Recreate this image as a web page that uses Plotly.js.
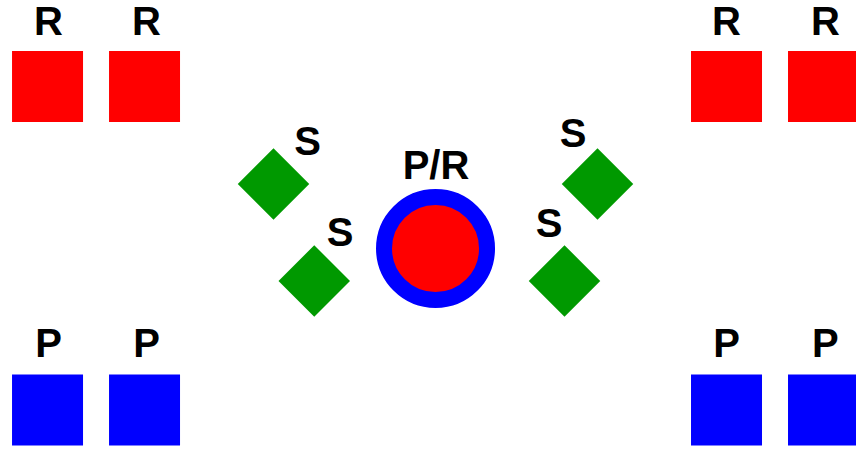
<!DOCTYPE html>
<html>
<head>
<meta charset="utf-8">
<script src="https://cdn.plot.ly/plotly-3.0.1.min.js"></script>
<style>html,body{margin:0;padding:0;background:#fff;}#chart{width:856px;height:449px;}</style>
</head>
<body>
<div id="chart"></div>
<script>
// Node positions (diagram units; centre node at origin)
const sideX = [-4, -3, 3, 4];
const redY = [1.67, 1.67, 1.67, 1.67];
const blueY = [-1.665, -1.665, -1.665, -1.665];
const greenX = [-1.67, -1.25, 1.67, 1.33];
const greenY = [0.665, -0.335, 0.665, -0.335];
const centerX = [0];
const centerY = [0];

// Labels
const rLabels = ['R', 'R', 'R', 'R'];
const rLabelX = [-3.99, -2.98, 3.0, 4.02];
const rLabelY = [2.3, 2.3, 2.3, 2.3];
const pLabels = ['P', 'P', 'P', 'P'];
const pLabelX = [-3.99, -2.98, 3.0, 4.02];
const pLabelY = [-1.02, -1.02, -1.02, -1.02];
const sLabels = ['S', 'S', 'S', 'S'];
const sLabelX = [-1.32, -0.985, 1.418, 1.17];
const sLabelY = [1.07, 0.13, 1.15, 0.22];
const cLabels = ['P/R'];
const cLabelX = [0.005];
const cLabelY = [0.82];

const labelFont = {family: 'Liberation Sans, Arial, sans-serif', size: 40, color: '#000000', weight: 'bold'};

const traces = [
  {x: sideX, y: redY, mode: 'markers', type: 'scatter', cliponaxis: false,
   marker: {symbol: 'square', size: 71, color: '#ff0000', line: {width: 0}}},
  {x: sideX, y: blueY, mode: 'markers', type: 'scatter', cliponaxis: false,
   marker: {symbol: 'square', size: 71, color: '#0000ff', line: {width: 0}}},
  {x: greenX, y: greenY, mode: 'markers', type: 'scatter', cliponaxis: false,
   marker: {symbol: 'diamond', size: 55, color: '#009900', line: {width: 0}}},
  {x: centerX, y: centerY, mode: 'markers', type: 'scatter', cliponaxis: false,
   marker: {symbol: 'circle', size: 103, color: '#ff0000', line: {width: 16, color: '#0000ff'}}},
  {x: rLabelX, y: rLabelY, text: rLabels, mode: 'text', type: 'scatter', cliponaxis: false,
   textposition: 'middle center', textfont: labelFont},
  {x: pLabelX, y: pLabelY, text: pLabels, mode: 'text', type: 'scatter', cliponaxis: false,
   textposition: 'middle center', textfont: labelFont},
  {x: sLabelX, y: sLabelY, text: sLabels, mode: 'text', type: 'scatter', cliponaxis: false,
   textposition: 'middle center', textfont: labelFont},
  {x: cLabelX, y: cLabelY, text: cLabels, mode: 'text', type: 'scatter', cliponaxis: false,
   textposition: 'middle center', textfont: labelFont}
];

const layout = {
  width: 856, height: 449,
  margin: {l: 0, r: 0, t: 0, b: 0, pad: 0},
  paper_bgcolor: '#ffffff', plot_bgcolor: '#ffffff',
  showlegend: false, hovermode: false,
  xaxis: {range: [-4.49, 4.335], visible: false, showgrid: false, zeroline: false, fixedrange: true},
  yaxis: {range: [-2.067, 2.562], visible: false, showgrid: false, zeroline: false, fixedrange: true}
};

Plotly.newPlot('chart', traces, layout, {staticPlot: true, displayModeBar: false});
</script>
</body>
</html>
